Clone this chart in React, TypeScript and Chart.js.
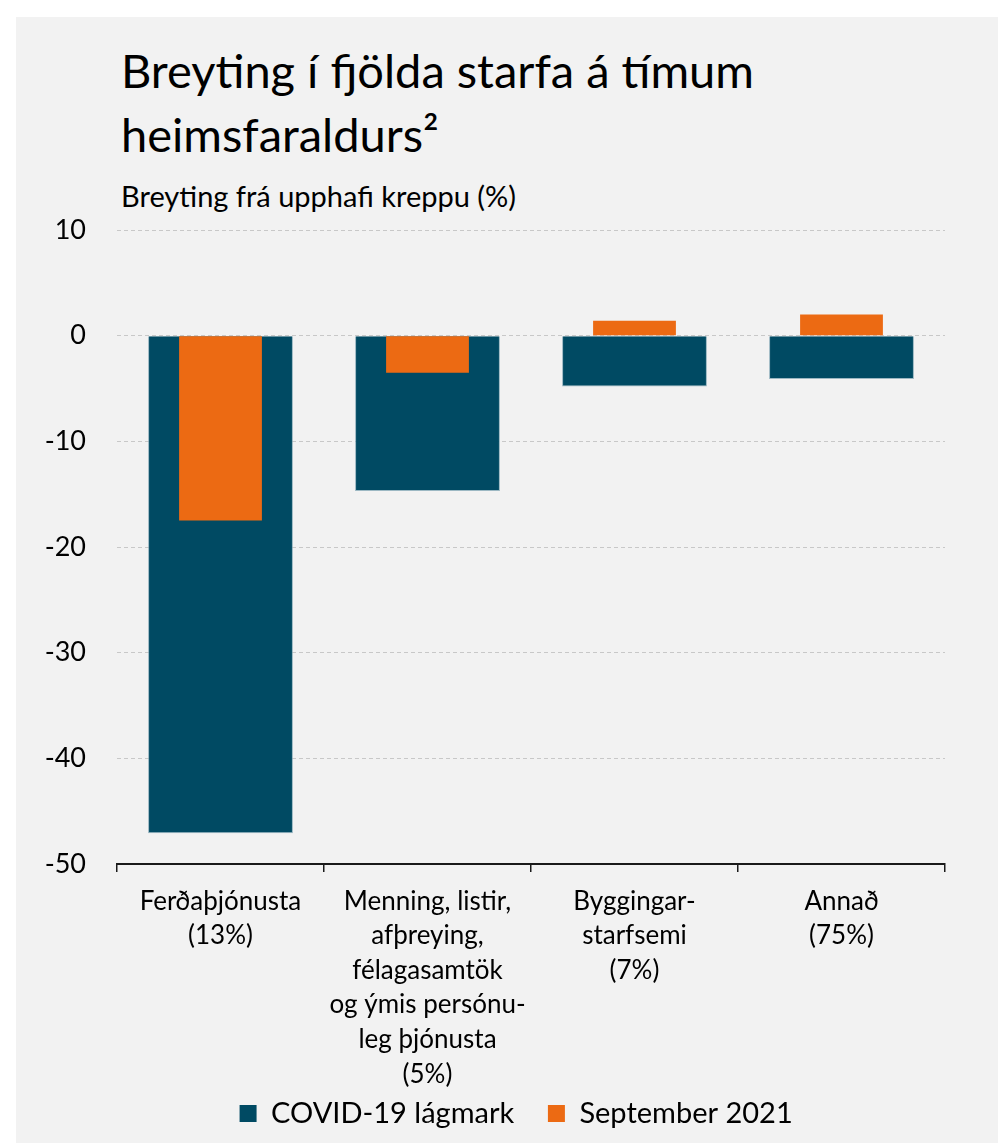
import React, { useEffect, useRef } from "react";
import { Chart, registerables } from "chart.js";

Chart.register(...registerables);

const titleLines = ["Breyting í fjölda starfa á tímum", "heimsfaraldurs²"];
const subtitle = "Breyting frá upphafi kreppu (%)";
const categories: string[][] = [
  ["Ferðaþjónusta", "(13%)"],
  ["Menning, listir,", "afþreying,", "félagasamtök", "og ýmis persónu-", "leg þjónusta", "(5%)"],
  ["Byggingar-", "starfsemi", "(7%)"],
  ["Annað", "(75%)"],
];
const seriesNames = ["COVID-19 lágmark", "September 2021"];
const covidLow = [-47.1, -14.7, -4.8, -4.1];
const sept2021 = [-17.5, -3.5, 1.4, 2.0];
const yMin = -50;
const yMax = 10;
const yStep = 10;

const FONT = "Lato, 'Open Sans', sans-serif";
const BLUE = "#004a63";
const ORANGE = "#ec6a13";
const LEGEND_GAP = "    ";

export default function App() {
  const ref = useRef<HTMLCanvasElement | null>(null);

  useEffect(() => {
    if (!ref.current) return;
    const chart = new Chart(ref.current, {
      type: "bar",
      data: {
        labels: categories,
        datasets: [
          {
            label: seriesNames[0],
            data: covidLow,
            backgroundColor: BLUE,
            borderColor: "rgba(120,160,175,0.7)",
            borderWidth: 1,
            barPercentage: 0.7,
            categoryPercentage: 1,
            grouped: false,
            order: 1,
          } as any,
          {
            label: seriesNames[1],
            data: sept2021,
            backgroundColor: ORANGE,
            borderWidth: 0,
            barPercentage: 0.4,
            categoryPercentage: 1,
            grouped: false,
            order: 0,
          } as any,
        ],
      },
      options: {
        responsive: false,
        animation: false,
        layout: { padding: { left: 0, top: 230, right: 53, bottom: 5 } },
        plugins: {
          title: { display: false },
          tooltip: { enabled: false },
          legend: {
            position: "bottom",
            fullSize: false,
            labels: {
              generateLabels: (c: any) => {
                const items = Chart.defaults.plugins.legend.labels.generateLabels(c);
                items.sort((a: any, b: any) => a.datasetIndex - b.datasetIndex);
                items.forEach((it: any) => {
                  it.lineWidth = 0;
                  it.text = it.text + LEGEND_GAP;
                });
                return items;
              },
              boxWidth: 17,
              boxHeight: 17,
              padding: 4,
              color: "#000",
              font: { family: FONT, size: 29 },
            },
          },
        },
        scales: {
          x: {
            afterFit: (s: any) => {
              s.height = 231;
            },
            grid: {
              display: true,
              offset: true,
              drawOnChartArea: false,
              drawTicks: true,
              tickLength: 8,
              color: "#1a1a1a",
              lineWidth: 1.5,
            },
            border: { display: true, color: "#1a1a1a", width: 2 },
            ticks: {
              color: "#000",
              padding: 12,
              maxRotation: 0,
              autoSkip: false,
              font: { family: FONT, size: 26, lineHeight: 1.33 },
            },
          },
          y: {
            min: yMin,
            max: yMax,
            afterFit: (s: any) => {
              s.width = 117;
            },
            border: { display: false, dash: [4, 3] },
            grid: {
              color: (ctx: any) => (ctx.tick && ctx.tick.value === yMin ? "rgba(0,0,0,0)" : "#c8c8c8"),
              lineWidth: 1,
              drawTicks: false,
            },
            ticks: {
              stepSize: yStep,
              padding: 31,
              color: "#000",
              font: { family: FONT, size: 27 },
            },
          },
        },
      },
    } as any);
    return () => chart.destroy();
  }, []);

  return (
    <div style={{ position: "absolute", left: 0, top: 0, width: 998, height: 1143, background: "#fff" }}>
      <div style={{ position: "absolute", left: 16, top: 17, right: 0, bottom: 0, background: "#f2f2f2" }} />
      <div
        style={{
          position: "absolute",
          left: 121,
          top: 38,
          fontFamily: FONT,
          fontSize: 47,
          lineHeight: "64px",
          color: "#000",
          whiteSpace: "nowrap",
        }}
      >
        {titleLines.map((t, i) => (
          <div key={i}>{t}</div>
        ))}
      </div>
      <div
        style={{
          position: "absolute",
          left: 121,
          top: 179,
          fontFamily: FONT,
          fontSize: 29,
          lineHeight: "34px",
          color: "#000",
          whiteSpace: "nowrap",
        }}
      >
        {subtitle}
      </div>
      <canvas ref={ref} width={998} height={1143} style={{ position: "absolute", left: 0, top: 0 }} />
    </div>
  );
}
